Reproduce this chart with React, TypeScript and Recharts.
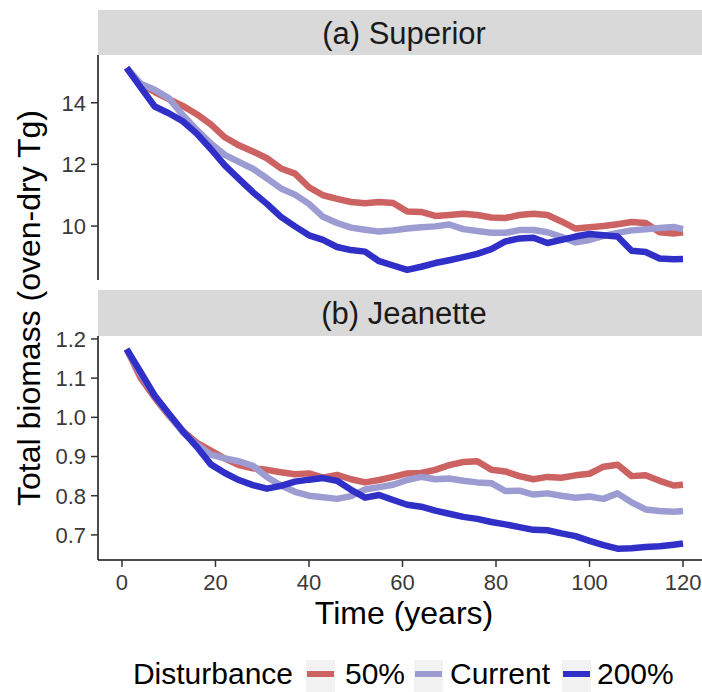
import { type CSSProperties } from 'react'
import { LineChart, Line, XAxis, YAxis } from 'recharts'

// sampled years (shared by both panels)
const years = [
  1, 4, 7, 10, 13, 16, 19, 22, 25, 28,
  31, 34, 37, 40, 43, 46, 49, 52, 55, 58,
  61, 64, 67, 70, 73, 76, 79, 82, 85, 88,
  91, 94, 97, 100, 103, 106, 109, 112, 115, 118,
  120,
]

// (a) Superior, total biomass in oven-dry Tg
const superior50 = [
  15.13, 14.6, 14.35, 14.12, 13.9, 13.63, 13.3, 12.88, 12.62, 12.42,
  12.2, 11.87, 11.7, 11.26, 11.0, 10.88, 10.78, 10.74, 10.78, 10.75,
  10.47, 10.46, 10.33, 10.36, 10.4, 10.36, 10.28, 10.26, 10.36, 10.4,
  10.36, 10.15, 9.92, 9.96, 10.0, 10.06, 10.13, 10.1, 9.8, 9.76,
  9.8,
]
const superiorCurrent = [
  15.13, 14.62, 14.42, 14.15, 13.6, 13.12, 12.68, 12.31, 12.08, 11.86,
  11.55, 11.22, 11.02, 10.72, 10.3, 10.1, 9.95, 9.88, 9.82, 9.86,
  9.92, 9.96, 9.99, 10.05, 9.9, 9.84, 9.78, 9.78, 9.87, 9.87,
  9.8, 9.65, 9.47, 9.55, 9.68, 9.78, 9.86, 9.9, 9.94, 9.97,
  9.9,
]
const superior200 = [
  15.13, 14.5, 13.88, 13.66, 13.4, 13.0, 12.5, 11.97, 11.53, 11.1,
  10.72, 10.3, 9.99, 9.7, 9.55, 9.32, 9.22, 9.17, 8.86, 8.72,
  8.58, 8.68, 8.8, 8.89, 8.99, 9.1, 9.25, 9.5, 9.6, 9.62,
  9.45, 9.55, 9.66, 9.74, 9.7, 9.66, 9.2, 9.16, 8.95, 8.92,
  8.93,
]

// (b) Jeanette
const jeanette50 = [
  1.174, 1.1, 1.05, 1.005, 0.965, 0.935, 0.915, 0.895, 0.878, 0.87,
  0.866, 0.86, 0.855, 0.857, 0.846, 0.853, 0.842, 0.834, 0.84, 0.848,
  0.857, 0.858, 0.866, 0.878, 0.886, 0.888, 0.866, 0.862, 0.85, 0.842,
  0.848, 0.846, 0.852, 0.856, 0.874, 0.879, 0.85, 0.852, 0.838, 0.826,
  0.828,
]
const jeanetteCurrent = [
  1.174, 1.11, 1.055, 1.008, 0.962, 0.93, 0.905, 0.895, 0.888, 0.876,
  0.848, 0.826, 0.81, 0.8, 0.796, 0.792, 0.799, 0.816, 0.822, 0.828,
  0.84, 0.848, 0.842, 0.844, 0.838, 0.834, 0.832, 0.812, 0.813, 0.803,
  0.806, 0.8, 0.795, 0.798, 0.792, 0.806, 0.783, 0.765, 0.761, 0.759,
  0.761,
]
const jeanette200 = [
  1.174, 1.115, 1.055, 1.01, 0.965, 0.925, 0.88, 0.858, 0.84, 0.827,
  0.818, 0.825, 0.836, 0.841, 0.845, 0.838, 0.815, 0.795, 0.802, 0.789,
  0.777, 0.772, 0.762, 0.754, 0.746, 0.741, 0.733, 0.727, 0.72, 0.713,
  0.712, 0.704, 0.697, 0.685, 0.674, 0.665, 0.666, 0.669, 0.671, 0.675,
  0.678,
]

const xTicks = [0, 20, 40, 60, 80, 100, 120]
const superiorTicks = [10, 12, 14]
const jeanetteTicks = [0.7, 0.8, 0.9, 1.0, 1.1, 1.2]

const seriesKeys = ['p50', 'current', 'p200']
const seriesLabels = ['50%', 'Current', '200%']
const seriesColors = ['#CD6262', '#9C9CD3', '#3030C8']

const superiorRows = years.map((year, i) => ({
  year,
  p50: superior50[i],
  current: superiorCurrent[i],
  p200: superior200[i],
}))
const jeanetteRows = years.map((year, i) => ({
  year,
  p50: jeanette50[i],
  current: jeanetteCurrent[i],
  p200: jeanette200[i],
}))

const FONT = '"Liberation Sans", Arial, Helvetica, sans-serif'
const X_DOMAIN = [-5.13, 124.06]

const tickStyle = { fill: '#3a3a3a', fontSize: 22, fontFamily: FONT }
const axisLine = { stroke: '#111', strokeWidth: 1.5 }
const tickLine = { stroke: '#333', strokeWidth: 1.5 }

const pageStyle: CSSProperties = {
  position: 'absolute',
  left: 0,
  top: 0,
  width: 702,
  height: 692,
  background: '#fff',
  fontFamily: FONT,
  overflow: 'hidden',
}

function seriesLines() {
  return seriesKeys.map((key, i) => (
    <Line
      key={key}
      type="linear"
      dataKey={key}
      stroke={seriesColors[i]}
      strokeWidth={6.5}
      strokeLinejoin="round"
      dot={false}
      activeDot={false}
      isAnimationActive={false}
    />
  ))
}

export default function App() {
  return (
    <div style={pageStyle}>
      <div style={{ position: 'absolute', left: 0, top: 35 }}>
        <LineChart width={702} height={245} data={superiorRows} margin={{ top: 20, right: 0, bottom: 0, left: 0 }}>
          <XAxis type="number" dataKey="year" domain={X_DOMAIN} allowDataOverflow hide />
          <YAxis
            type="number"
            domain={[8.25, 15.55]}
            ticks={superiorTicks}
            interval={0}
            allowDataOverflow
            width={98}
            tickSize={7}
            tickMargin={5}
            tick={tickStyle}
            axisLine={axisLine}
            tickLine={tickLine}
          />
          {seriesLines()}
        </LineChart>
      </div>

      <div style={{ position: 'absolute', left: 0, top: 316 }}>
        <LineChart width={702} height={294} data={jeanetteRows} margin={{ top: 20, right: 0, bottom: 0, left: 0 }}>
          <XAxis
            type="number"
            dataKey="year"
            domain={X_DOMAIN}
            ticks={xTicks}
            interval={0}
            allowDataOverflow
            height={50}
            tickSize={7}
            tickMargin={7}
            tick={tickStyle}
            axisLine={axisLine}
            tickLine={tickLine}
          />
          <YAxis
            type="number"
            domain={[0.636, 1.2075]}
            ticks={jeanetteTicks}
            interval={0}
            allowDataOverflow
            width={98}
            tickSize={7}
            tickMargin={5}
            tick={tickStyle}
            axisLine={axisLine}
            tickLine={tickLine}
            tickFormatter={(v: number) => v.toFixed(1)}
          />
          {seriesLines()}
        </LineChart>
      </div>

      <svg width={702} height={692} style={{ position: 'absolute', left: 0, top: 0, pointerEvents: 'none' }}>
        <rect x={98} y={10} width={604} height={45} fill="#D9D9D9" />
        <text x={404} y={44} textAnchor="middle" fontSize={31} fill="#1a1a1a" fontFamily={FONT}>
          (a) Superior
        </text>
        <rect x={98} y={290} width={604} height={46} fill="#D9D9D9" />
        <text x={404} y={324} textAnchor="middle" fontSize={31} fill="#1a1a1a" fontFamily={FONT}>
          (b) Jeanette
        </text>

        <text transform="translate(40, 308) rotate(-90)" textAnchor="middle" fontSize={32} fill="#000" fontFamily={FONT}>
          Total biomass (oven-dry Tg)
        </text>
        <text x={404} y={624} textAnchor="middle" fontSize={32} fill="#000" fontFamily={FONT}>
          Time (years)
        </text>

        <text x={293} y={684} textAnchor="end" fontSize={30} fill="#000" fontFamily={FONT}>
          Disturbance
        </text>
        {[306, 414, 562].map((kx, i) => (
          <g key={seriesKeys[i]}>
            <rect x={kx} y={660} width={29} height={32} fill="#F2F2F2" />
            <line x1={kx + 1} x2={kx + 28} y1={674} y2={674} stroke={seriesColors[i]} strokeWidth={6} />
          </g>
        ))}
        {[345, 450, 597].map((tx, i) => (
          <text key={seriesLabels[i]} x={tx} y={684} fontSize={30} fill="#000" fontFamily={FONT}>
            {seriesLabels[i]}
          </text>
        ))}
      </svg>
    </div>
  )
}
